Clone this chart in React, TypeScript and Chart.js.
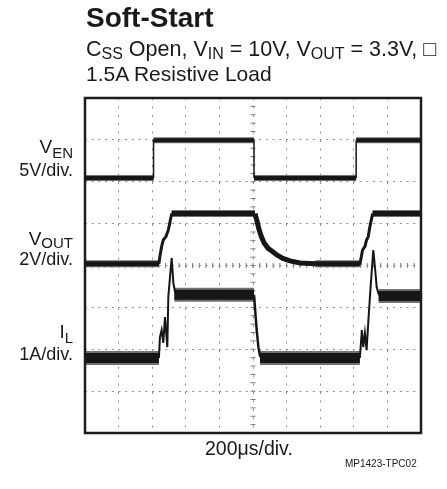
import React, { useEffect, useRef } from "react";
import { Chart, registerables } from "chart.js";

Chart.register(...registerables);

// Axis extents in scope divisions
const xDivisions = 10;
const yDivisions = 8;

// V_EN trace (x: div, y: div); null = break
const vEnFlat = [[0, 6.09], [2.04, 6.09], null, [2.04, 6.99], [5.03, 6.99], null, [5.03, 6.09], [8.07, 6.09], null, [8.07, 6.99], [10, 6.99]];
const vEnEdges = [[2.04, 6.09], [2.04, 6.99], null, [5.03, 6.99], [5.03, 6.09], null, [8.07, 6.09], [8.07, 6.99]];

// V_OUT trace
const vOutFlat = [[0, 4.04], [2.2, 4.04], null, [2.58, 5.24], [5.06, 5.24], null, [6.85, 4.04], [8.18, 4.04], null, [8.56, 5.24], [10, 5.24]];
const vOutRise1 = [[2.2, 4.04], [2.23, 4.22], [2.28, 4.45], [2.33, 4.61], [2.41, 4.69], [2.48, 4.85], [2.52, 5.0], [2.58, 5.24]];
const vOutDecay = [[5.06, 5.24], [5.12, 5.06], [5.18, 4.86], [5.24, 4.71], [5.33, 4.54], [5.45, 4.41], [5.57, 4.34], [5.71, 4.25], [5.89, 4.17], [6.1, 4.11], [6.4, 4.06], [6.85, 4.04]];
const vOutRise2 = [[8.18, 4.02], [8.26, 4.37], [8.33, 4.45], [8.38, 4.61], [8.43, 4.69], [8.48, 4.93], [8.56, 5.24]];

// I_L trace
const iLFlat = [[0, 1.79], [2.2, 1.79], null, [2.66, 3.3], [5.03, 3.3], null, [5.21, 1.79], [8.18, 1.79], null, [8.74, 3.27], [10, 3.27]];
const iLRise1 = [[2.2, 1.79], [2.23, 2.29], [2.28, 2.46], [2.33, 2.15], [2.38, 2.77], [2.45, 2.05], [2.48, 3.25], [2.53, 3.73], [2.58, 4.18], [2.63, 3.58], [2.68, 3.37], [2.74, 3.3]];
const iLFall = [[5.03, 3.3], [5.08, 2.77], [5.11, 2.46], [5.16, 2.05], [5.21, 1.84], [5.27, 1.79]];
const iLRise2 = [[8.18, 1.79], [8.24, 2.46], [8.28, 2.05], [8.33, 2.39], [8.38, 1.98], [8.43, 2.63], [8.48, 3.25], [8.53, 3.82], [8.58, 4.37], [8.63, 3.96], [8.68, 3.49], [8.73, 3.34], [8.78, 3.27]];

const toPoints = (arr: (number[] | null)[]) => {
  const out: { x: number; y: number | null }[] = [];
  let lastX = 0;
  for (const p of arr) {
    if (p === null) out.push({ x: lastX, y: null });
    else {
      out.push({ x: p[0], y: p[1] });
      lastX = p[0];
    }
  }
  return out;
};

const INK = "#161616";
const HALO = "#707070";
const FONT = '"Liberation Sans", Arial, Helvetica, sans-serif';

const trace = (label: string, arr: (number[] | null)[], width: number, color = INK, order = 0) => ({
  label,
  data: toPoints(arr),
  borderColor: color,
  backgroundColor: color,
  borderWidth: width,
  pointRadius: 0,
  spanGaps: false,
  tension: 0,
  order,
  borderCapStyle: "butt" as const,
  borderJoinStyle: "miter" as const,
});

const scopePlugin = {
  id: "scopeFrame",
  beforeDatasetsDraw(chart: any) {
    const { ctx, scales } = chart;
    const xs = scales.x;
    const ys = scales.y;
    const cx = xs.getPixelForValue(xDivisions / 2);
    const cy = ys.getPixelForValue(yDivisions / 2);
    ctx.save();
    ctx.strokeStyle = "#7a7a7a";
    ctx.lineWidth = 1;
    ctx.beginPath();
    for (let i = 0; i <= xDivisions * 5; i++) {
      const px = xs.getPixelForValue(i * 0.2);
      ctx.moveTo(px, cy - 2.5);
      ctx.lineTo(px, cy + 2.5);
    }
    for (let i = 0; i <= yDivisions * 5; i++) {
      const py = ys.getPixelForValue(i * 0.2);
      ctx.moveTo(cx - 2.5, py);
      ctx.lineTo(cx + 2.5, py);
    }
    ctx.stroke();
    ctx.restore();
  },
  afterDraw(chart: any) {
    const { ctx, chartArea: a } = chart;
    ctx.save();
    ctx.strokeStyle = "#1c1c1c";
    ctx.lineWidth = 2.5;
    ctx.strokeRect(a.left, a.top, a.right - a.left, a.bottom - a.top);
    ctx.restore();
  },
};

function Txt({ children, style }: { children: React.ReactNode; style: React.CSSProperties }) {
  return (
    <div
      style={{
        position: "absolute",
        whiteSpace: "nowrap",
        color: "#1a1a1a",
        fontFamily: FONT,
        ...style,
      }}
    >
      {children}
    </div>
  );
}

const Sub = ({ children, size, shift }: { children: React.ReactNode; size: number; shift: number }) => (
  <span style={{ fontSize: size, position: "relative", top: shift }}>{children}</span>
);

export default function App() {
  const ref = useRef<HTMLCanvasElement>(null);
  useEffect(() => {
    if (!ref.current) return;
    const chart = new Chart(ref.current, {
      type: "line",
      data: {
        datasets: [
          trace("V_EN", vEnFlat, 4, INK, 0),
          trace("V_EN halo", vEnFlat, 6, HALO, 1),
          trace("V_EN edges", vEnEdges, 1.5, INK, 0),
          trace("V_OUT", vOutFlat, 5, INK, 0),
          trace("V_OUT halo", vOutFlat, 7, HALO, 1),
          trace("V_OUT rise 1", vOutRise1, 3, INK, 0),
          trace("V_OUT decay", vOutDecay, 5, INK, 0),
          trace("V_OUT rise 2", vOutRise2, 3, INK, 0),
          trace("I_L", iLFlat, 10, INK, 0),
          trace("I_L halo", iLFlat, 14, HALO, 1),
          trace("I_L rise 1", iLRise1, 2, INK, 0),
          trace("I_L fall", iLFall, 2.5, INK, 0),
          trace("I_L rise 2", iLRise2, 2, INK, 0),
        ] as any,
      },
      options: {
        animation: false,
        responsive: false,
        maintainAspectRatio: false,
        layout: { padding: { left: 85, right: 26, top: 98, bottom: 56 } },
        plugins: { legend: { display: false }, tooltip: { enabled: false }, title: { display: false } },
        scales: {
          x: {
            type: "linear",
            min: 0,
            max: xDivisions,
            ticks: { display: false, stepSize: 1, padding: 0 },
            grid: { color: "#8c8c8c", lineWidth: 1, drawTicks: false, tickLength: 0 },
            border: { display: false, dash: [2, 6.4] },
          },
          y: {
            type: "linear",
            min: 0,
            max: yDivisions,
            ticks: { display: false, stepSize: 1, padding: 0 },
            grid: { color: "#8c8c8c", lineWidth: 1, drawTicks: false, tickLength: 0 },
            border: { display: false, dash: [2, 4.7] },
          },
        },
      },
      plugins: [scopePlugin],
    });
    return () => chart.destroy();
  }, []);

  return (
    <div style={{ position: "fixed", left: 0, top: 0, width: 447, height: 489, background: "#fff" }}>
      <canvas ref={ref} width={447} height={489} style={{ position: "absolute", left: 0, top: 0 }} />
      <Txt style={{ left: 86, top: 4.3, fontSize: 28, lineHeight: "28px", fontWeight: "bold" }}>Soft-Start</Txt>
      <Txt style={{ left: 86, top: 38.9, fontSize: 21.5, lineHeight: "21px" }}>
        C<Sub size={16} shift={3}>SS</Sub> Open, V<Sub size={16} shift={3}>IN</Sub> = 10V, V
        <Sub size={16} shift={3}>OUT</Sub> = 3.3V, □
      </Txt>
      <Txt style={{ left: 86, top: 62.9, fontSize: 21, lineHeight: "21px" }}>1.5A Resistive Load</Txt>

      <Txt style={{ right: 374, top: 136.9, fontSize: 19, lineHeight: "19px", textAlign: "right" }}>
        V<Sub size={15} shift={5}>EN</Sub>
      </Txt>
      <Txt style={{ right: 374, top: 160.8, fontSize: 18, lineHeight: "18px", textAlign: "right" }}>5V/div.</Txt>

      <Txt style={{ right: 374, top: 228.9, fontSize: 19, lineHeight: "19px", textAlign: "right" }}>
        V<Sub size={15} shift={3}>OUT</Sub>
      </Txt>
      <Txt style={{ right: 374, top: 249.8, fontSize: 18, lineHeight: "18px", textAlign: "right" }}>2V/div.</Txt>

      <Txt style={{ right: 374, top: 321.9, fontSize: 19, lineHeight: "19px", textAlign: "right" }}>
        I<Sub size={15} shift={5}>L</Sub>
      </Txt>
      <Txt style={{ right: 374, top: 344.8, fontSize: 18, lineHeight: "18px", textAlign: "right" }}>1A/div.</Txt>

      <Txt style={{ left: 205, top: 438.5, fontSize: 19.5, lineHeight: "19.5px" }}>200μs/div.</Txt>
      <Txt style={{ left: 345, top: 459.2, fontSize: 10, lineHeight: "10px" }}>MP1423-TPC02</Txt>
    </div>
  );
}
